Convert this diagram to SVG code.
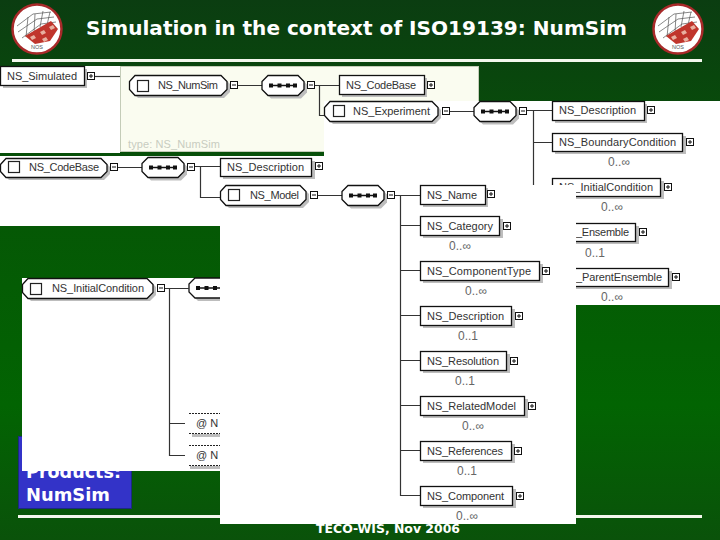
<svg xmlns="http://www.w3.org/2000/svg" width="720" height="540" viewBox="0 0 720 540">
<style>
.t{font-family:"Liberation Sans",Arial,sans-serif;font-size:11px;fill:#333}
.o{font-family:"Liberation Sans",Arial,sans-serif;font-size:12px;fill:#666;text-anchor:middle}
.b{font-family:"DejaVu Sans",Verdana,sans-serif;font-weight:bold;fill:#fff}
.box{fill:#fff;stroke:#111;stroke-width:1.3}
.sh{fill:#bdbdbd}
.cb{fill:#fff;stroke:#222;stroke-width:1.2}
.c{fill:none;stroke:#333;stroke-width:1.2}
.w{fill:#fff}
.d{fill:none;stroke:#222;stroke-width:1;stroke-dasharray:2 1}
</style>
<defs>
<linearGradient id="bg" x1="0" y1="0" x2="0" y2="1">
<stop offset="0" stop-color="#0b3d11"/><stop offset="0.42" stop-color="#055805"/><stop offset="0.75" stop-color="#026402"/><stop offset="1" stop-color="#0a520a"/>
</linearGradient>
<g id="plus"><rect x="0.500" y="0.500" width="7" height="7" fill="#fff" stroke="#111"/><path d="M2 4h4M4 2v4" stroke="#111" fill="none"/></g>
<g id="minus"><rect x="0.500" y="0.500" width="7" height="7" fill="#fff" stroke="#111"/><path d="M2 4h4" stroke="#111" fill="none"/></g>
<g id="seq">
<polygon class="sh" points="9,3 39,3 45,9 45,17 39,23 9,23 3,17 3,9"/>
<polygon class="box" points="6,0 36,0 42,6 42,14 36,20 6,20 0,14 0,6"/>
<path d="M7 10h28" stroke="#111" stroke-width="1.500"/>
<path d="M7 8h4v4h-4zM15.500 8h4v4h-4zM24 8h4v4h-4zM31 8h4v4h-4z" fill="#111"/>
</g>
<g id="logo">
<circle r="24.500" fill="#fff" stroke="#a82a2a" stroke-width="2.500"/>
<path d="M-20 -3L-4 -15L14 -17M-19 3L0 -10L17 -12M-15 9L4 -5L19 -7M-9 -12L-11 8M-2 -15L-3 4M6 -18L3 -2M13 -17L10 -4" fill="none" stroke="#555" stroke-width="0.7"/>
<path d="M-12 7L14 -8L21 0L13 12L-2 15Z" fill="#c0352c"/>
<path d="M-7 8l4 -2l2 3l-4 2zM3 3l4 -2l2 3l-4 2zM12 -2l4 -2l2 3l-4 2zM5 10l4 -2l2 3l-4 2z" fill="#e8b0a0"/>
<text y="20" text-anchor="middle" font-family="'Liberation Sans',Arial,sans-serif" font-size="5.500" fill="#555">NOS</text>
</g>
</defs>

<g id="background">
<rect width="720" height="540" fill="url(#bg)"/>
<rect x="12" y="59" width="690" height="3" fill="#f4f8ee"/>
<rect x="18" y="515" width="684" height="3" fill="#f4f8ee"/>
</g>

<g id="title">
<use href="#logo" x="37" y="29"/>
<use href="#logo" x="678" y="29"/>
<text class="b" x="86" y="35" font-size="19" textLength="541" lengthAdjust="spacingAndGlyphs">Simulation in the context of ISO19139: NumSim</text>
</g>

<g id="products">
<rect x="18.500" y="436.500" width="113" height="72" fill="#3333c8" stroke="#1c2a80"/>
<text class="b" x="26" y="478" font-size="18" textLength="95" lengthAdjust="spacingAndGlyphs">Products:</text>
<text class="b" x="26" y="501" font-size="18" textLength="84" lengthAdjust="spacingAndGlyphs">NumSim</text>
</g>

<g id="footer">
<text class="b" x="316" y="533" font-size="13" textLength="144" lengthAdjust="spacingAndGlyphs">TECO-WIS, Nov 2006</text>
</g>

<g id="panels">
<rect class="w" x="0" y="66" width="120" height="87"/>
<rect x="120.500" y="66.500" width="358" height="85" fill="#fafcf0" stroke="#c4ccb8"/>
<rect x="324" y="101" width="396" height="204" class="w"/>
<rect x="0" y="156" width="324" height="70" class="w"/>
<rect x="22" y="278" width="198" height="193" class="w"/>
<text x="128" y="148" font-family="'Liberation Sans',Arial,sans-serif" font-size="11" fill="#c8ccc0" textLength="92">type: NS_NumSim</text>
</g>

<g id="n-initial-condition">
<rect class="sh" x="555" y="181" width="109" height="18"/>
<rect class="box" x="552.500" y="178.500" width="108" height="18"/>
<text class="t" x="559" y="191" textLength="94">NS_InitialCondition</text>
<use href="#plus" x="664" y="183"/>
<text class="o" x="612" y="211">0..∞</text>
</g>
<g id="n-ensemble">
<rect class="sh" x="566" y="226" width="73" height="18"/>
<rect class="box" x="560.500" y="223.500" width="75" height="18"/>
<text class="t" x="576" y="236" textLength="53">_Ensemble</text>
<use href="#plus" x="639" y="228"/>
<text class="o" x="595" y="257">0..1</text>
</g>
<g id="n-parent-ensemble">
<rect class="sh" x="566" y="271" width="106" height="18"/>
<rect class="box" x="560.500" y="268.500" width="108" height="18"/>
<text class="t" x="576" y="281" textLength="86">_ParentEnsemble</text>
<use href="#plus" x="672" y="273"/>
<text class="o" x="612" y="301">0..∞</text>
</g>

<g id="n-initial-panel">
<polygon class="sh" points="31,281 150,281 156,287 156,295 150,301 31,301 25,295 25,287"/>
<polygon class="box" points="28,278.500 147,278.500 153,284.500 153,292.500 147,298.500 28,298.500 22.500,292.500 22.500,284.500"/>
<rect class="cb" x="30.500" y="283.500" width="11" height="11"/>
<text class="t" x="52" y="292" textLength="92">NS_InitialCondition</text>
<use href="#minus" x="157" y="284"/>
<use href="#seq" x="189" y="278"/>
</g>
<g id="n-attr-1">
<rect class="sh" x="192" y="434" width="28" height="3"/>
<path class="d" d="M189 413.500H220M189 433.500H220"/>
<text class="t" x="196" y="427">@ N</text>
</g>
<g id="n-attr-2">
<rect class="sh" x="190" y="466" width="30" height="3"/>
<path class="d" d="M189 445.500H220M189 465.500H220"/>
<text class="t" x="196" y="459">@ N</text>
</g>

<g id="big-panel"><rect class="w" x="220" y="185" width="356" height="339"/></g>

<g id="connectors">
<path class="c" d="M95 76.500H120"/>
<path class="c" d="M238 85.500H262M315 85.500H339M319.500 85.500V115.500H324"/>
<path class="c" d="M450 111.500H474M527 110.500H552M533.500 110.500V185M533.500 142.500H552"/>
<path class="c" d="M118 167.500H142M195 166.500H220M200.500 166.500V197.500H220"/>
<path class="c" d="M317 195.500H342M394 195.500H420M400.500 195.500V495.500H420M400.500 225.500H420M400.500 270.500H420M400.500 315.500H420M400.500 360.500H420M400.500 405.500H420M400.500 450.500H420"/>
<path class="c" d="M165 288.500H189M169.500 288.500V455.500H185M169.500 423.500H185"/>
</g>

<g id="n-simulated">
<rect class="sh" x="3" y="69" width="84" height="19"/>
<rect class="box" x="0.500" y="66.500" width="84" height="19"/>
<text class="t" x="7" y="80" textLength="70">NS_Simulated</text>
<use href="#plus" x="87" y="72"/>
</g>
<g id="n-numsim">
<polygon class="sh" points="138,78 224,78 230,84 230,92 224,98 138,98 132,92 132,84"/>
<polygon class="box" points="135,75.500 221,75.500 227,81.500 227,89.500 221,95.500 135,95.500 129.500,89.500 129.500,81.500"/>
<rect class="cb" x="137.500" y="80.500" width="11" height="11"/>
<text class="t" x="158" y="89" textLength="60">NS_NumSim</text>
<use href="#minus" x="230" y="81"/>
</g>
<g id="n-seq-1"><use href="#seq" x="262" y="75.500"/><use href="#minus" x="307" y="81"/></g>
<g id="n-codebase-1">
<rect class="sh" x="342" y="78" width="85" height="19"/>
<rect class="box" x="339.500" y="75.500" width="85" height="19"/>
<text class="t" x="346" y="89" textLength="70">NS_CodeBase</text>
<use href="#plus" x="427" y="81"/>
</g>
<g id="n-experiment">
<polygon class="sh" points="333,104 435,104 441,110 441,118 435,124 333,124 327,118 327,110"/>
<polygon class="box" points="330,101.500 432,101.500 438,107.500 438,115.500 432,121.500 330,121.500 324.500,115.500 324.500,107.500"/>
<rect class="cb" x="333.500" y="105.500" width="11" height="11"/>
<text class="t" x="353" y="115" textLength="77">NS_Experiment</text>
<use href="#minus" x="442" y="107"/>
</g>
<g id="n-seq-2"><use href="#seq" x="474" y="101.500"/><use href="#minus" x="519" y="107"/></g>
<g id="n-description-1">
<rect class="sh" x="555" y="104" width="92" height="19"/>
<rect class="box" x="552.500" y="101.500" width="92" height="19"/>
<text class="t" x="559" y="114" textLength="77">NS_Description</text>
<use href="#plus" x="647" y="106"/>
</g>
<g id="n-boundary">
<rect class="sh" x="555" y="136" width="131" height="18"/>
<rect class="box" x="552.500" y="133.500" width="130" height="18"/>
<text class="t" x="559" y="146" textLength="117">NS_BoundaryCondition</text>
<use href="#plus" x="686" y="138"/>
<text class="o" x="619" y="166">0..∞</text>
</g>
<g id="n-codebase-2">
<polygon class="sh" points="9,161 104,161 110,167 110,174 104,180 9,180 3,174 3,167"/>
<polygon class="box" points="6,158.500 101,158.500 107,164.500 107,171.500 101,177.500 6,177.500 0.500,171.500 0.500,164.500"/>
<rect class="cb" x="8.500" y="161.500" width="11" height="11"/>
<text class="t" x="29" y="171" textLength="70">NS_CodeBase</text>
<use href="#minus" x="110" y="163"/>
</g>
<g id="n-seq-3"><use href="#seq" x="142" y="157.500"/><use href="#minus" x="187" y="163"/></g>
<g id="n-description-2">
<rect class="sh" x="223" y="161" width="92" height="18"/>
<rect class="box" x="220.500" y="158.500" width="91" height="18"/>
<text class="t" x="227" y="171" textLength="77">NS_Description</text>
<use href="#plus" x="315" y="162"/>
</g>
<g id="n-model">
<polygon class="sh" points="229,188 303,188 309,194 309,202 303,208 229,208 223,202 223,194"/>
<polygon class="box" points="226,185.500 300,185.500 306,191.500 306,199.500 300,205.500 226,205.500 220.500,199.500 220.500,191.500"/>
<rect class="cb" x="228.500" y="189.500" width="11" height="11"/>
<text class="t" x="250" y="199" textLength="49">NS_Model</text>
<use href="#minus" x="310" y="191"/>
</g>
<g id="n-seq-4"><use href="#seq" x="342" y="185.500"/><use href="#minus" x="387" y="191"/></g>
<g id="n-name">
<rect class="sh" x="423" y="188" width="65" height="19"/>
<rect class="box" x="420.500" y="185.500" width="65" height="19"/>
<text class="t" x="427" y="199" textLength="50">NS_Name</text>
<use href="#plus" x="487" y="190"/>
</g>
<g id="n-category">
<rect class="sh" x="423" y="219" width="80" height="19"/>
<rect class="box" x="420.500" y="216.500" width="79" height="19"/>
<text class="t" x="427" y="230" textLength="66">NS_Category</text>
<use href="#plus" x="503" y="222"/>
<text class="o" x="460" y="250">0..∞</text>
</g>
<g id="n-component-type">
<rect class="sh" x="423" y="264" width="120" height="19"/>
<rect class="box" x="420.500" y="261.500" width="119" height="19"/>
<text class="t" x="427" y="275" textLength="104">NS_ComponentType</text>
<use href="#plus" x="542" y="267"/>
<text class="o" x="476" y="295">0..∞</text>
</g>
<g id="n-description-3">
<rect class="sh" x="423" y="309" width="92" height="19"/>
<rect class="box" x="420.500" y="306.500" width="91" height="19"/>
<text class="t" x="427" y="320" textLength="77">NS_Description</text>
<use href="#plus" x="515" y="312"/>
<text class="o" x="468" y="340">0..1</text>
</g>
<g id="n-resolution">
<rect class="sh" x="423" y="354" width="87" height="19"/>
<rect class="box" x="420.500" y="351.500" width="86" height="19"/>
<text class="t" x="427" y="365" textLength="72">NS_Resolution</text>
<use href="#plus" x="510" y="357"/>
<text class="o" x="465" y="385">0..1</text>
</g>
<g id="n-related-model">
<rect class="sh" x="423" y="399" width="105" height="19"/>
<rect class="box" x="420.500" y="396.500" width="104" height="19"/>
<text class="t" x="427" y="410" textLength="89">NS_RelatedModel</text>
<use href="#plus" x="528" y="402"/>
<text class="o" x="473" y="430">0..∞</text>
</g>
<g id="n-references">
<rect class="sh" x="423" y="444" width="92" height="19"/>
<rect class="box" x="420.500" y="441.500" width="91" height="19"/>
<text class="t" x="427" y="455" textLength="76">NS_References</text>
<use href="#plus" x="514" y="447"/>
<text class="o" x="467" y="475">0..1</text>
</g>
<g id="n-component">
<rect class="sh" x="423" y="489" width="93" height="19"/>
<rect class="box" x="420.500" y="486.500" width="92" height="19"/>
<text class="t" x="427" y="500" textLength="77">NS_Component</text>
<use href="#plus" x="516" y="492"/>
<text class="o" x="467" y="520">0..∞</text>
</g>
</svg>
